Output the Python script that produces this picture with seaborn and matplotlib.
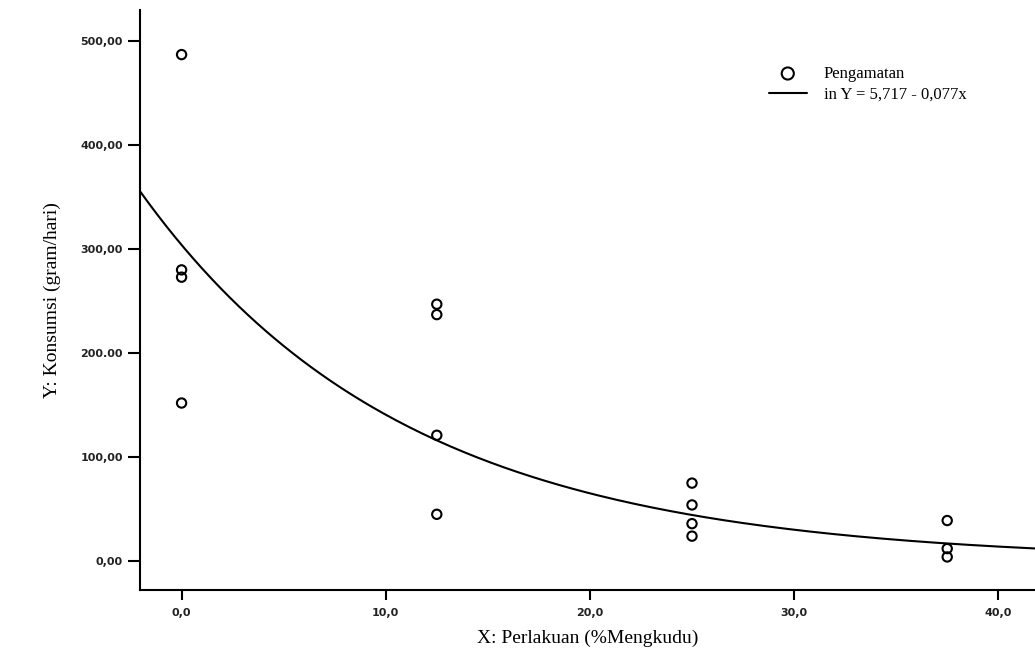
import numpy as np
import pandas as pd
import matplotlib
matplotlib.use('Agg')
import matplotlib.pyplot as plt
import seaborn as sns

perlakuan = [0, 0, 0, 0,
             12.5, 12.5, 12.5, 12.5,
             25, 25, 25, 25,
             37.5, 37.5, 37.5]
konsumsi = [487, 280, 273, 152,
            247, 237, 121, 45,
            75, 54, 36, 24,
            39, 12, 4]

# fitted model: ln Y = b0 + b1*x
b0 = 5.717
b1 = -0.077

yticks = [0, 100, 200, 300, 400, 500]
ytick_labels = ['0,00', '100,00', '200.00', '300,00', '400,00', '500,00']
xticks = [0, 10, 20, 30, 40]
xtick_labels = ['0,0', '10,0', '20,0', '30,0', '40,0']

obs = pd.DataFrame({'x': perlakuan, 'y': konsumsi})
xfit = np.linspace(-2.05, 41.8, 200)
fit = pd.DataFrame({'x': xfit, 'y': np.exp(b0 + b1 * xfit)})

sns.set_style('white')
plt.rcParams['font.family'] = ['DejaVu Sans']

fig = plt.figure(figsize=(10.35, 6.58), dpi=100)
ax = fig.add_axes([0.135, 0.103, 0.865, 0.882])

sns.lineplot(data=fit, x='x', y='y', ax=ax, color='black', linewidth=1.5,
             label='in Y = 5,717 - 0,077x')
sns.scatterplot(data=obs, x='x', y='y', ax=ax, marker='o', s=45,
                facecolor='none', edgecolor='black', linewidth=1.5,
                label='Pengamatan')

ax.set_xlim(-2.05, 41.8)
ax.set_ylim(-28, 530)

ax.set_yticks(yticks)
ax.set_yticklabels(ytick_labels, fontsize=8, fontweight='bold', color='#222222')
ax.set_xticks(xticks)
ax.set_xticklabels(xtick_labels, fontsize=8, fontweight='bold', color='#222222')
ax.tick_params(axis='y', direction='out', length=9, width=1.5, color='black', pad=3, left=True)
ax.tick_params(axis='x', direction='out', length=7, width=1.5, color='black', pad=6, bottom=True)

for s in ['top', 'right']:
    ax.spines[s].set_visible(False)
for s in ['left', 'bottom']:
    ax.spines[s].set_color('black')
    ax.spines[s].set_linewidth(1.5)

ax.set_xlabel('X: Perlakuan (%Mengkudu)', fontsize=14, family='Liberation Serif',
              labelpad=8, color='black')
ax.set_ylabel('Y: Konsumsi (gram/hari)', fontsize=14, family='Liberation Serif',
              labelpad=14, color='black')

# legend: marker first, then line
handles, labels = ax.get_legend_handles_labels()
order = [labels.index('Pengamatan'), labels.index('in Y = 5,717 - 0,077x')]
leg = ax.legend([handles[i] for i in order], [labels[i] for i in order],
                loc='upper left', bbox_to_anchor=(0.695, 0.915), frameon=False,
                prop={'family': 'Liberation Serif', 'size': 12},
                handlelength=2.3, labelspacing=0.3, borderaxespad=0,
                handletextpad=1.0, markerscale=1.3)
for t in leg.get_texts():
    t.set_color('black')

fig.savefig('out.png', dpi=100)
